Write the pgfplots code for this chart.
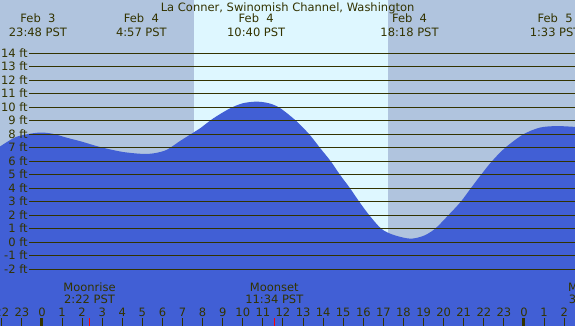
\documentclass[border=0pt]{standalone}
\usepackage{pgfplots}
\pgfplotsset{compat=1.18}
\usepackage{fontspec}
\setmainfont{DejaVu Sans}
\definecolor{night}{RGB}{176,196,222}
\definecolor{day}{RGB}{222,247,255}
\definecolor{tide}{RGB}{65,95,213}
\definecolor{ink}{RGB}{51,51,0}
\newcommand\lbl{\fontsize{11.5bp}{13bp}\selectfont}
\pgfplotstableread{
h ft
-2.3 6.92
-2.09 7.1
-1.26 7.82
-0.2 8.12
0.5 8.05
1.23 7.75
2.0 7.45
2.89 7.06
4.0 6.7
5.0 6.55
5.6 6.6
6.21 6.85
6.87 7.5
7.53 8.12
7.87 8.44
8.53 9.18
9.36 9.92
10.0 10.3
10.69 10.42
11.3 10.3
11.85 9.95
12.65 9.0
13.31 8.0
13.84 7.0
14.38 6.0
14.84 5.0
15.34 4.0
15.80 3.0
16.30 2.0
16.9 1.0
17.5 0.55
18.33 0.27
19.0 0.48
19.57 1.0
20.23 2.0
20.85 3.0
21.35 4.0
21.86 5.0
22.40 6.0
23.06 7.0
23.97 8.0
24.8 8.5
25.63 8.61
26.54 8.55
26.8 8.52
}\tidedata
\begin{document}
\begin{tikzpicture}[font=\lbl]
\useasboundingbox (0,0) rectangle (575bp,326bp);
\clip (0,0) rectangle (575bp,326bp);
\begin{axis}[
  at={(0,0)}, anchor=south west,
  scale only axis, width=575bp, height=326bp,
  xmin=-2.09, xmax=26.54, ymin=-6.2, ymax=17.95,
  axis lines=none, clip=false,
]
% night and day backgrounds
\fill[night] (axis cs:-3,-8) rectangle (axis cs:28,20);
\fill[day] (axis cs:7.57,-8) rectangle (axis cs:17.23,20);
% tide
\addplot[draw=none, fill=tide, smooth] table[x=h, y=ft] {\tidedata}
  -- (axis cs:26.8,-8) -- (axis cs:-2.3,-8) -- cycle;
% level lines and labels
\pgfplotsinvokeforeach{-2,...,14}{
  \draw[ink, line width=1.1bp] (axis cs:-0.63,#1) -- (axis cs:27,#1);
  \node[anchor=base east, inner sep=0pt, text=ink, yshift=-4bp] at (axis cs:-0.7,#1) {#1 ft};
}
% hour ticks and labels
\pgfplotsinvokeforeach{-2,...,26}{
  \draw[ink, line width=1bp] (axis cs:#1,-6.3) -- (axis cs:#1,-5.61);
  \node[anchor=base, inner sep=0pt, text=ink] at (axis cs:#1,-5.46) {\pgfmathparse{int(mod(#1+24,24))}\pgfmathresult};
}
\draw[ink, line width=3bp] (axis cs:0,-6.3) -- (axis cs:0,-5.61);
\draw[ink, line width=3bp] (axis cs:24,-6.3) -- (axis cs:24,-5.61);
\draw[red, line width=1bp] (axis cs:2.367,-6.3) -- (axis cs:2.367,-5.61);
\draw[red, line width=1bp] (axis cs:11.567,-6.3) -- (axis cs:11.567,-5.61);
% moon labels
\node[anchor=base, inner sep=0pt, text=ink] at (axis cs:2.367,-3.66) {Moonrise};
\node[anchor=base, inner sep=0pt, text=ink] at (axis cs:2.367,-4.50) {2:22 PST};
\node[anchor=base, inner sep=0pt, text=ink] at (axis cs:11.567,-3.66) {Moonset};
\node[anchor=base, inner sep=0pt, text=ink] at (axis cs:11.567,-4.50) {11:34 PST};
\node[anchor=base, inner sep=0pt, text=ink] at (axis cs:27.5,-3.66) {Moonrise};
\node[anchor=base, inner sep=0pt, text=ink] at (axis cs:27.5,-4.50) {3:29 PST};
% title and tide labels
\node[anchor=base, inner sep=0pt, text=ink] at (rel axis cs:0.5,0) [yshift=0pt] {};
\node[anchor=base, inner sep=0pt, text=ink] at (axis cs:12.23,17.13) {La Conner, Swinomish Channel, Washington};
\node[anchor=base, inner sep=0pt, text=ink] at (axis cs:-0.2,16.27) {Feb\ \ 3};
\node[anchor=base, inner sep=0pt, text=ink] at (axis cs:-0.2,15.28) {23:48 PST};
\node[anchor=base, inner sep=0pt, text=ink] at (axis cs:4.95,16.27) {Feb\ \ 4};
\node[anchor=base, inner sep=0pt, text=ink] at (axis cs:4.95,15.28) {4:57 PST};
\node[anchor=base, inner sep=0pt, text=ink] at (axis cs:10.667,16.27) {Feb\ \ 4};
\node[anchor=base, inner sep=0pt, text=ink] at (axis cs:10.667,15.28) {10:40 PST};
\node[anchor=base, inner sep=0pt, text=ink] at (axis cs:18.3,16.27) {Feb\ \ 4};
\node[anchor=base, inner sep=0pt, text=ink] at (axis cs:18.3,15.28) {18:18 PST};
\node[anchor=base, inner sep=0pt, text=ink] at (axis cs:25.55,16.27) {Feb\ \ 5};
\node[anchor=base, inner sep=0pt, text=ink] at (axis cs:25.55,15.28) {1:33 PST};
\end{axis}
\end{tikzpicture}
\end{document}
